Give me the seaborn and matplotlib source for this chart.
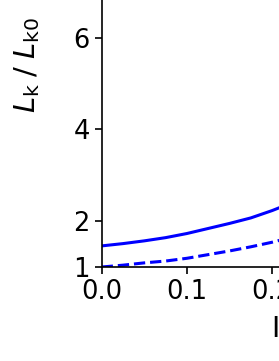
import matplotlib
matplotlib.use("Agg")
import matplotlib.pyplot as plt
import seaborn as sns
import pandas as pd

# values
current = [0.0, 0.025, 0.05, 0.075, 0.10, 0.125, 0.15, 0.175, 0.20, 0.215]
lk_solid = [1.46, 1.51, 1.57, 1.64, 1.73, 1.84, 1.95, 2.07, 2.23, 2.34]
lk_dashed = [1.00, 1.04, 1.09, 1.13, 1.19, 1.27, 1.35, 1.44, 1.54, 1.61]
y_ticks = [1, 2, 4, 6, 8, 10]
x_ticks = [0.0, 0.1, 0.2, 0.3, 0.4, 0.5]

sns.set_style("ticks")
plt.rcParams['font.family'] = ['DejaVu Sans']
for k in ['text.color', 'axes.labelcolor', 'xtick.color', 'ytick.color', 'axes.edgecolor']:
    plt.rcParams[k] = 'black'

df = pd.DataFrame({'I': current, 'solid': lk_solid, 'dashed': lk_dashed})

fig = plt.figure(figsize=(2.79, 3.61), dpi=100)
ax = fig.add_axes([101.7 / 279, 94 / 361, 426 / 279, 412.8 / 361])

sns.lineplot(data=df, x='I', y='solid', ax=ax, color='#0000ff', lw=2.2)
sns.lineplot(data=df, x='I', y='dashed', ax=ax, color='#0000ff', lw=2.2,
             linestyle='--')

ax.set_xlim(0, 0.5)
ax.set_ylim(1, 10)
ax.set_xticks(x_ticks)
ax.set_yticks(y_ticks)
ax.tick_params(labelsize=18.5, width=1.2, length=5)
for s in ax.spines.values():
    s.set_linewidth(1.2)
ax.set_xlabel('I (mA)', fontsize=20, labelpad=7)
ax.set_ylabel(r'$\mathit{L}_\mathrm{k}\;/\;\mathit{L}_\mathrm{k0}$', fontsize=21)
ax.yaxis.set_label_coords(-0.14, 0.49)

fig.savefig('out.png', dpi=100)
